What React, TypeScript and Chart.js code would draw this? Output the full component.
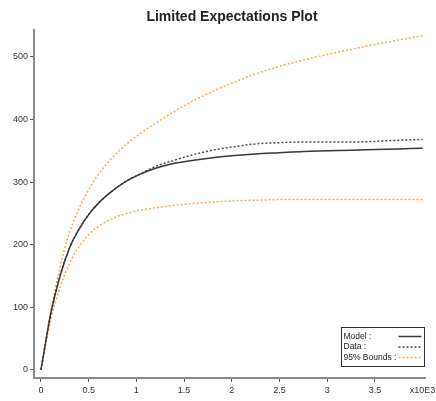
import { useEffect, useRef } from "react";
import { Chart, registerables } from "chart.js";

Chart.register(...registerables);

const xValues = [0, 0.05, 0.1, 0.2, 0.3, 0.4, 0.5, 0.6, 0.7, 0.8, 0.9, 1.0, 1.2, 1.4, 1.6, 1.8, 2.0, 2.25, 2.5, 2.75, 3.0, 3.25, 3.5, 3.75, 4.0];
const modelValues = [0, 45, 88, 150, 195, 225, 248, 266, 280, 292, 302, 310, 322, 330, 335, 339, 342, 345, 347, 349, 350, 351, 352, 353, 354];
const dataValues = [0, 45, 88, 150, 195, 225, 248, 266, 280, 292, 302, 310, 325, 335, 344, 351, 356, 361, 363, 364, 364, 364, 365, 367, 368];
const upperValues = [0, 46, 90, 165, 220, 258, 288, 312, 331, 347, 361, 373, 394, 413, 430, 445, 458, 473, 485, 495, 504, 512, 520, 527, 534];
const lowerValues = [0, 42, 78, 132, 170, 197, 216, 229, 238, 245, 250, 254, 259, 263, 266, 268, 270, 271, 272, 272, 272, 272, 272, 272, 272];

const xTickValues = [0, 0.5, 1, 1.5, 2, 2.5, 3, 3.5, 4];
const xTickLabels = ["0", "0.5", "1", "1.5", "2", "2.5", "3", "3.5", "x10E3"];
const yTickValues = [0, 100, 200, 300, 400, 500];

const titleText = "Limited Expectations Plot";
const legendLabels = ["Model :", "Data :", "95% Bounds :"];

const FONT = "'Liberation Sans', Arial, sans-serif";
const ORANGE = "#FFA64D";

const titlePlugin = {
  id: "customTitle",
  afterDraw(chart: any) {
    const ctx = chart.ctx;
    ctx.save();
    ctx.font = `bold 14px ${FONT}`;
    ctx.fillStyle = "#222";
    ctx.textAlign = "center";
    ctx.textBaseline = "middle";
    ctx.fillText(titleText, chart.chartArea.left + 198, 17);
    ctx.restore();
  },
};

const legendPlugin = {
  id: "customLegend",
  afterDraw(chart: any) {
    const ctx = chart.ctx;
    const area = chart.chartArea;
    const x = area.right - 83.5;
    const y = area.bottom - 50.5;
    const w = 83;
    const h = 39;
    ctx.save();
    ctx.fillStyle = "#ffffff";
    ctx.fillRect(x, y, w, h);
    ctx.strokeStyle = "#333333";
    ctx.lineWidth = 1;
    ctx.strokeRect(x, y, w, h);
    const ds = chart.data.datasets;
    const items = [ds[0], ds[1], ds[2]];
    ctx.font = `8.5px ${FONT}`;
    ctx.textBaseline = "middle";
    ctx.textAlign = "left";
    items.forEach((d: any, i: number) => {
      const cy = y + 9 + i * 10.5;
      ctx.fillStyle = "#222";
      ctx.fillText(legendLabels[i], x + 2, cy);
      ctx.beginPath();
      ctx.strokeStyle = d.borderColor;
      ctx.lineWidth = d.borderWidth;
      ctx.setLineDash(d.borderDash || []);
      ctx.moveTo(x + 57, cy);
      ctx.lineTo(x + 80, cy);
      ctx.stroke();
    });
    ctx.restore();
  },
};

export default function App() {
  const ref = useRef<HTMLCanvasElement | null>(null);
  useEffect(() => {
    document.body.style.margin = "0";
    if (!ref.current) return;
    const mk = (vals: number[]) => xValues.map((x, i) => ({ x, y: vals[i] }));
    const chart = new Chart(ref.current, {
      type: "line",
      data: {
        datasets: [
          { label: legendLabels[0], data: mk(modelValues), borderColor: "#3a3a3a", borderWidth: 1.5, pointRadius: 0, cubicInterpolationMode: "monotone" } as any,
          { label: legendLabels[1], data: mk(dataValues), borderColor: "#4a4a4a", borderWidth: 1.5, borderDash: [2, 2], pointRadius: 0, cubicInterpolationMode: "monotone" } as any,
          { label: legendLabels[2], data: mk(upperValues), borderColor: ORANGE, borderWidth: 1.5, borderDash: [2, 2], pointRadius: 0, cubicInterpolationMode: "monotone" } as any,
          { label: legendLabels[2], data: mk(lowerValues), borderColor: ORANGE, borderWidth: 1.5, borderDash: [2, 2], pointRadius: 0, cubicInterpolationMode: "monotone" } as any,
        ],
      },
      options: {
        responsive: false,
        animation: false,
        layout: { padding: { left: 0, right: 11, top: 30, bottom: 0 } },
        plugins: {
          legend: { display: false },
          tooltip: { enabled: false },
          title: { display: false },
        },
        scales: {
          x: {
            type: "linear",
            min: -0.073,
            max: 4.025,
            afterBuildTicks: (s: any) => {
              s.ticks = xTickValues.map((v) => ({ value: v }));
            },
            afterFit: (s: any) => {
              s.height = 23;
              s.paddingLeft = 0;
              s.paddingRight = 0;
            },
            ticks: {
              autoSkip: false,
              maxRotation: 0,
              padding: 3,
              color: "#333",
              font: { family: FONT, size: 9 },
              callback: (v: any) => {
                const i = xTickValues.indexOf(Number(v));
                return i >= 0 ? xTickLabels[i] : "";
              },
            },
            grid: {
              drawOnChartArea: false,
              drawTicks: true,
              tickLength: 4,
              color: (c: any) => (c.tick && c.tick.value === 4 ? "rgba(0,0,0,0)" : "#555"),
            },
            border: { display: true, color: "#8a8a8a", width: 2 },
          },
          y: {
            type: "linear",
            min: -13,
            max: 543,
            afterBuildTicks: (s: any) => {
              s.ticks = yTickValues.map((v) => ({ value: v }));
            },
            afterFit: (s: any) => {
              s.width = 34;
              s.paddingTop = 0;
              s.paddingBottom = 0;
            },
            ticks: {
              padding: 2,
              color: "#333",
              font: { family: FONT, size: 9 },
            },
            grid: { drawOnChartArea: false, drawTicks: true, tickLength: 4, color: "#555" },
            border: { display: true, color: "#8a8a8a", width: 2 },
          },
        },
      },
      plugins: [legendPlugin, titlePlugin],
    });
    return () => chart.destroy();
  }, []);
  return <canvas ref={ref} width={436} height={401} style={{ display: "block" }} />;
}
